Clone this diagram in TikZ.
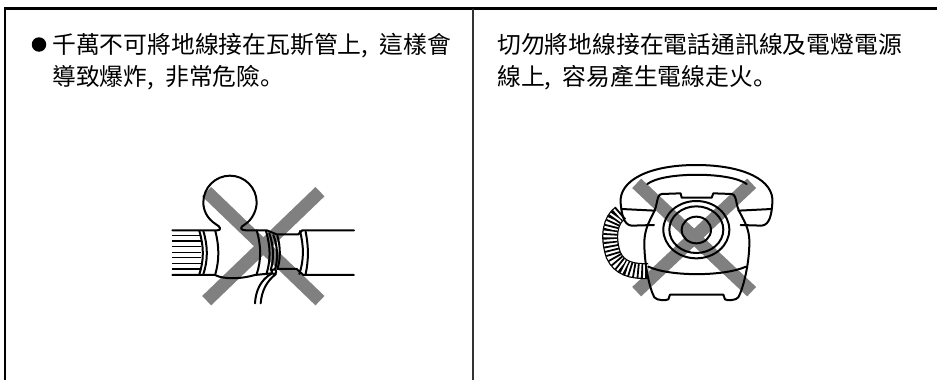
\documentclass[tikz,border=0pt]{standalone}
\usepackage{fontspec}
\setmainfont{Liberation Sans}
\newfontfamily\cjk{Noto Sans CJK TC}
\newfontfamily\cjksc{Noto Sans CJK SC}
\definecolor{xgray}{HTML}{808080}
\newcommand{\maru}{{\cjksc 。}}
\tikzset{
  txt/.style={anchor=base west,inner sep=0pt,font=\cjk\fontsize{23.8}{24}\selectfont},
  cross/.style={draw=xgray,line width=13pt},
  ink/.style={line width=2pt,line join=round,line cap=round},
  thin ink/.style={line width=1.5pt,line join=round},
  zoomA/.style={shift={(140,170)},x=0.3333pt,y=-0.3333pt},
  zoomB/.style={shift={(590,160)},x=0.3333pt,y=-0.3333pt}
}
\begin{document}
\begin{tikzpicture}[x=1pt,y=-1pt]
\useasboundingbox (0,0) rectangle (937,380);
% frame
\draw[line width=2.6pt] (5,380) -- (5,8.5) -- (937,8.5);
\draw[line width=1.5pt,color=black!80] (473,8.5) -- (473,380);
% text
\node[circle,fill=black,inner sep=0pt,minimum size=14.5pt] (bullet) at (39,44.5) {};
\node[txt] (t1) at (52,53.5) {千萬不可將地線接在瓦斯管上,\hspace{6pt} 這樣會};
\node[txt] (t2) at (52,85.5) {導致爆炸,\hspace{6pt} 非常危險\maru};
\node[txt] (t3) at (497,53.5) {切勿將地線接在電話通訊線及電燈電源};
\node[txt] (t4) at (497,85.5) {線上,\hspace{6pt} 容易產生電線走火\maru};
% pipe
\begin{scope}[zoomA]
\draw[cross] (200,65) -- (540,392);
\draw[cross] (540,65) -- (200,392);
\draw[ink] (97,181) -- (232,181) .. controls (245,181) and (242,170) .. (228,163)
  .. controls (200,145) and (190,120) .. (190,97)
  .. controls (190,53) and (226,17) .. (270,17)
  .. controls (314,17) and (350,53) .. (350,97)
  .. controls (350,120) and (338,148) .. (315,163)
  .. controls (298,172) and (300,181) .. (318,181) -- (380,181) -- (410,193) -- (475,193) -- (487,181) -- (642,181);
\draw[ink] (97,315) -- (225,315) .. controls (250,328) and (300,328) .. (345,315) -- (395,310);
\draw[ink] (412,297) -- (470,297) -- (490,315) -- (642,315);
\foreach \y in {197,213,230,247,263,280,297}
  \draw[thin ink] (97,\y) -- (183,\y);
\draw[ink] (178,183) .. controls (192,230) and (192,270) .. (178,313);
\draw[ink] (190,183) .. controls (204,230) and (204,270) .. (190,313);
\draw[ink] (226,183) .. controls (238,230) and (238,270) .. (226,313);
\draw[ink] (350,181) .. controls (364,230) and (364,270) .. (350,313);
\draw[ink] (378,183) .. controls (392,230) and (392,270) .. (380,310);
\draw[ink] (388,190) .. controls (402,230) and (402,270) .. (392,300);
\draw[ink] (400,195) .. controls (414,230) and (414,270) .. (405,298);
\draw[ink] (412,197) .. controls (422,230) and (422,270) .. (412,297);
\draw[ink] (480,183) .. controls (492,230) and (492,270) .. (478,312);
\draw[ink] (497,185) .. controls (506,230) and (506,270) .. (497,312);
\draw[ink] (402,305) circle[radius=7];
\draw[ink] (396,310) .. controls (360,330) and (347,365) .. (345,400);
\draw[ink] (408,312) .. controls (378,335) and (365,365) .. (362,400);
\end{scope}
% telephone
\begin{scope}[zoomB]
\draw[cross] (140,70) -- (485,395);
\draw[cross] (485,70) -- (140,395);
% cord
\def\cordpath{(92,158) .. controls (60,180) and (52,230) .. (70,285) .. controls (88,325) and (125,335) .. (175,333)}
\draw[line width=16pt,color=black] \cordpath;
\draw[line width=13.5pt,color=white] \cordpath;
\draw[line width=14pt,color=black,dash pattern=on 1.8pt off 2.2pt] \cordpath;
% handset
\draw[ink] (192,195) -- (125,197) .. controls (100,195) and (95,160) .. (92,130)
  .. controls (85,60) and (180,15) .. (318,15)
  .. controls (460,15) and (555,60) .. (547,130)
  .. controls (545,160) and (540,195) .. (515,197) -- (452,195);
\draw[ink] (95,147) -- (195,152);
\draw[ink] (445,152) -- (545,147);
\draw[ink] (172,72) .. controls (220,35) and (420,35) .. (470,72);
% body
\draw[ink] (272,100) -- (275,113) -- (365,113) -- (370,100) -- (425,102)
  .. controls (435,103) and (437,115) .. (440,130)
  .. controls (445,165) and (480,190) .. (478,250)
  .. controls (478,310) and (460,385) .. (445,412)
  .. controls (438,422) and (410,422) .. (405,418) -- (400,404) -- (240,404) -- (235,418)
  .. controls (228,422) and (200,422) .. (193,412)
  .. controls (178,385) and (163,310) .. (163,250)
  .. controls (163,190) and (195,165) .. (200,130)
  .. controls (203,115) and (205,103) .. (215,102) -- cycle;
\draw[ink] (175,320) .. controls (240,350) and (400,350) .. (468,320);
\draw[ink] (319,209) ellipse[x radius=99,y radius=86];
\draw[ink] (319,209) ellipse[x radius=81,y radius=70];
\draw[ink] (319,210) ellipse[x radius=44,y radius=40];
\end{scope}
\end{tikzpicture}
\end{document}
